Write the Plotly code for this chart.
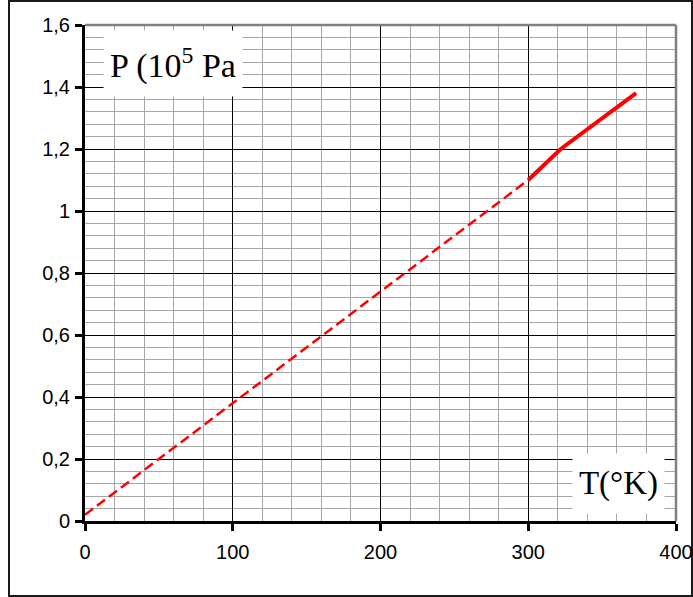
import plotly.graph_objects as go

# Data
T_extrap = [0, 300]
P_extrap = [0.02, 1.10]
T_meas = [300, 322, 373]
P_meas = [1.10, 1.20, 1.38]

x_ticks = [0, 100, 200, 300, 400]
x_labels = ["0", "100", "200", "300", "400"]
y_ticks = [0, 0.2, 0.4, 0.6, 0.8, 1.0, 1.2, 1.4, 1.6]
y_labels = ["0", "0,2", "0,4", "0,6", "0,8", "1", "1,2", "1,4", "1,6"]

W, H = 693, 597
ml, mr, mt, mb = 85, 17, 25, 76
pw = W - ml - mr
ph = H - mt - mb


def px_to_paper_x(px):
    return (px - ml) / pw


def px_to_paper_y(py):
    return (H - mb - py) / ph


fig = go.Figure()
fig.add_trace(go.Scatter(x=T_extrap, y=P_extrap, mode="lines",
                         line=dict(color="#ff0000", width=2.5, dash="10px,5px"),
                         showlegend=False, hoverinfo="skip"))
fig.add_trace(go.Scatter(x=T_meas, y=P_meas, mode="lines",
                         line=dict(color="#ff0000", width=4),
                         showlegend=False, hoverinfo="skip"))

axis_font = dict(family="Liberation Sans", size=20, color="black")

fig.update_xaxes(range=[0, 400], tickmode="array", tickvals=x_ticks, ticktext=x_labels,
                 showgrid=True, gridcolor="black", gridwidth=1,
                 minor=dict(dtick=20, showgrid=True, gridcolor="#a6a6a6", gridwidth=1),
                 showline=True, linecolor="black", linewidth=3,
                 ticks="outside", ticklen=7, tickwidth=3, tickcolor="black",
                 zeroline=False, tickfont=axis_font, ticklabelstandoff=4,
                 automargin=False)
fig.update_yaxes(range=[0, 1.6], tickmode="array", tickvals=y_ticks, ticktext=y_labels,
                 showgrid=True, gridcolor="black", gridwidth=1,
                 minor=dict(dtick=0.04, showgrid=True, gridcolor="#a6a6a6", gridwidth=1),
                 showline=True, linecolor="black", linewidth=3,
                 ticks="outside", ticklen=7, tickwidth=3, tickcolor="black",
                 zeroline=False, tickfont=axis_font, ticklabelstandoff=1,
                 automargin=False)

shapes = [
    # outer frame
    dict(type="rect", xref="paper", yref="paper",
         x0=px_to_paper_x(9), x1=px_to_paper_x(692),
         y0=px_to_paper_y(596), y1=px_to_paper_y(1),
         line=dict(color="#1a1a1a", width=2), layer="below"),
    # gray top and right plot border
    dict(type="line", xref="paper", yref="paper", x0=0, x1=1, y0=1, y1=1,
         line=dict(color="#808080", width=2.5), layer="above"),
    dict(type="line", xref="paper", yref="paper", x0=1, x1=1, y0=0, y1=1,
         line=dict(color="#808080", width=2.5), layer="above"),
]

annotations = [
    dict(xref="paper", yref="paper", x=px_to_paper_x(103), y=px_to_paper_y(30),
         xanchor="left", yanchor="top", showarrow=False,
         text="P (10<sup>5</sup> Pa",
         font=dict(family="Liberation Serif", size=34, color="black"), align="center",
         width=138, height=65, borderpad=0, bgcolor="white"),
    dict(xref="paper", yref="paper", x=px_to_paper_x(572), y=px_to_paper_y(453),
         xanchor="left", yanchor="top", showarrow=False,
         text="T(°K)", font=dict(family="Liberation Serif", size=33, color="black"),
         align="center", width=91, height=59, borderpad=0, bgcolor="white"),
]

fig.update_layout(width=W, height=H, margin=dict(l=ml, r=mr, t=mt, b=mb),
                  paper_bgcolor="white", plot_bgcolor="white",
                  font=dict(family="Liberation Sans", size=20, color="black"),
                  shapes=shapes, annotations=annotations, showlegend=False)

fig.write_html("out.html")
